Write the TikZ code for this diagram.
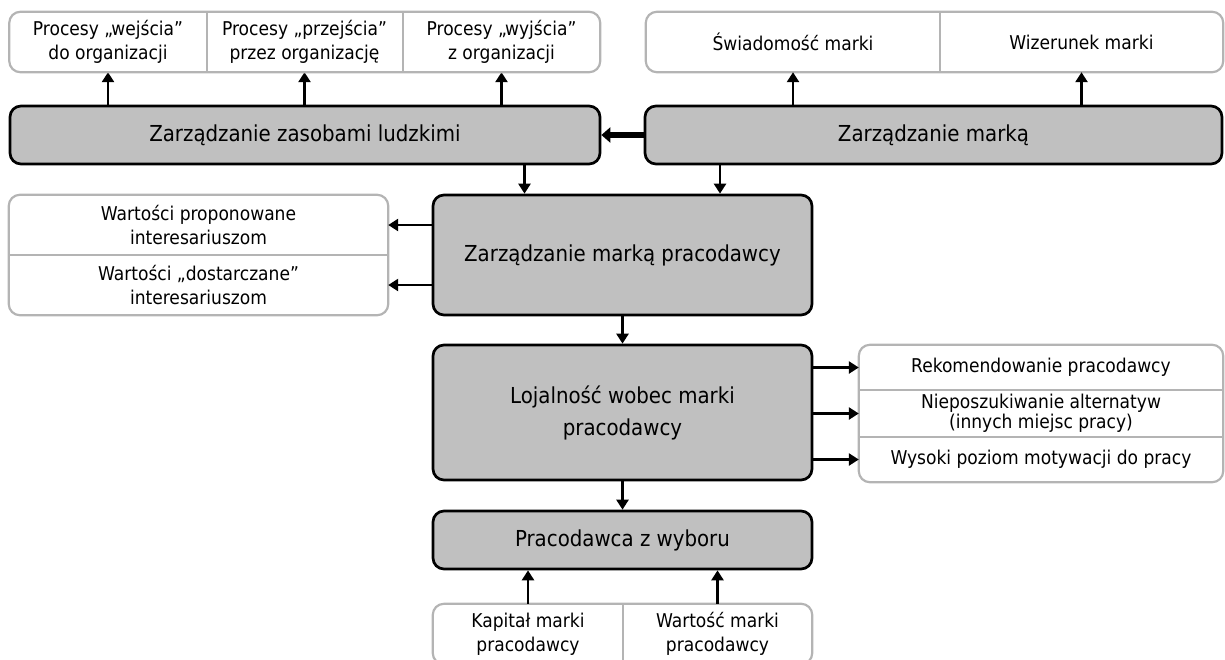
\documentclass[tikz,border=0pt]{standalone}
\usepackage{fontspec}
\setmainfont{DejaVu Sans Condensed}
\usetikzlibrary{arrows.meta,positioning}
\tikzstyle{arrow} = [line width=2.5pt, -{Triangle[length=10pt,width=12pt]}]
\definecolor{boxgray}{RGB}{192,192,192}
\definecolor{linegray}{RGB}{180,180,180}

\begin{document}
\begin{tikzpicture}[x=1pt,y=-1pt]
\tikzset{main/.style={draw=black,line width=2.7pt,fill=boxgray,rounded corners=11pt,align=center,inner sep=0pt,font=\fontsize{22}{32}\selectfont},
cell/.style={inner sep=0pt,align=center,font=\fontsize{19}{24}\selectfont},
frame/.style={draw=linegray,line width=2.2pt,rounded corners=11pt},
sep/.style={draw=linegray,line width=2.2pt}}
\useasboundingbox (0,0) rectangle (1225,659);

% main boxes
\node[main,minimum width=590pt,minimum height=58pt] (zzl) at (305,135) {Zarządzanie zasobami ludzkimi};
\node[main,minimum width=577pt,minimum height=58pt] (zm) at (933.5,135) {Zarządzanie marką};
\node[main,minimum width=379pt,minimum height=120pt] (zmp) at (622.5,255) {Zarządzanie marką pracodawcy};
\node[main,minimum width=379pt,minimum height=135pt] (loj) at (622.5,412.5) {Lojalność wobec marki\\pracodawcy};
\node[main,minimum width=379pt,minimum height=58pt] (pzw) at (622.5,540) {Pracodawca z wyboru};

% HR processes
\foreach \nm/\x/\txt in {pin/108/{Procesy „wejścia”\\do organizacji},pmid/304.5/{Procesy „przejścia”\\przez organizację},pout/501.5/{Procesy „wyjścia”\\z organizacji}} {
\node[cell,minimum width=197pt,minimum height=60pt] (\nm) at (\x,42) {\txt};
\draw[arrow] (zzl.north -| \nm.south) -- (\nm.south); }
\draw[frame] (pin.north west) rectangle (pout.south east);
\draw[sep] (pin.north east) -- (pin.south east);
\draw[sep] (pmid.north east) -- (pmid.south east);

% brand
\node[cell,minimum width=294pt,minimum height=60pt] (aware) at (793,42) {Świadomość marki};
\node[cell,minimum width=283pt,minimum height=60pt] (image) at (1081.5,42) {Wizerunek marki};
\draw[frame] (aware.north west) rectangle (image.south east);
\draw[sep] (aware.north east) -- (aware.south east);
\draw[arrow] (zm.north -| aware.south) -- (aware.south);
\draw[arrow] (zm.north -| image.south) -- (image.south);

\draw[line width=6pt,-{Triangle[length=9pt,width=15pt]}] (zm.west) -- (zzl.east);

\coordinate (zin) at ([xshift=-98pt]zmp.north);
\coordinate (min) at ([xshift=97.5pt]zmp.north);
\draw[arrow] (zzl.south -| zin) -- (zin);
\draw[arrow] (zm.south -| min) -- (min);

% values
\node[cell,minimum width=379pt,minimum height=60pt] (vprop) at (198.5,225) {Wartości proponowane\\interesariuszom};
\node[cell,minimum width=379pt,minimum height=60pt] (vdel) at (198.5,285) {Wartości „dostarczane”\\interesariuszom};
\draw[frame] (vprop.north west) rectangle (vdel.south east);
\draw[sep] (vprop.south west) -- (vprop.south east);
\draw[arrow] (zmp.west |- vprop.east) -- (vprop.east);
\draw[arrow] (zmp.west |- vdel.east) -- (vdel.east);

\draw[arrow] (zmp.south) -- (loj.north);

% loyalty effects
\node[cell,minimum width=364pt,minimum height=45pt] (rek) at (1041,367.5) {Rekomendowanie pracodawcy};
\node[cell,minimum width=364pt,minimum height=47pt] (alt) at (1041,413.5) {Nieposzukiwanie alternatyw\\[-4pt](innych miejsc pracy)};
\node[cell,minimum width=364pt,minimum height=45pt] (mot) at (1041,459.5) {Wysoki poziom motywacji do pracy};
\draw[frame] (rek.north west) rectangle (mot.south east);
\draw[sep] (rek.south west) -- (rek.south east);
\draw[sep] (alt.south west) -- (alt.south east);
\foreach \nm in {rek,alt,mot}
\draw[arrow] (loj.east |- \nm.west) -- (\nm.west);

\draw[arrow] (loj.south) -- (pzw.north);

% equity and value
\node[cell,minimum width=190pt,minimum height=60pt] (kap) at (528,634) {Kapitał marki\\pracodawcy};
\node[cell,minimum width=189pt,minimum height=60pt] (wart) at (717.5,634) {Wartość marki\\pracodawcy};
\draw[frame] (kap.north west) rectangle (wart.south east);
\draw[sep] (kap.north east) -- (kap.south east);
\draw[arrow] (kap.north) -- (pzw.south -| kap.north);
\draw[arrow] (wart.north) -- (pzw.south -| wart.north);

\end{tikzpicture}
\end{document}
